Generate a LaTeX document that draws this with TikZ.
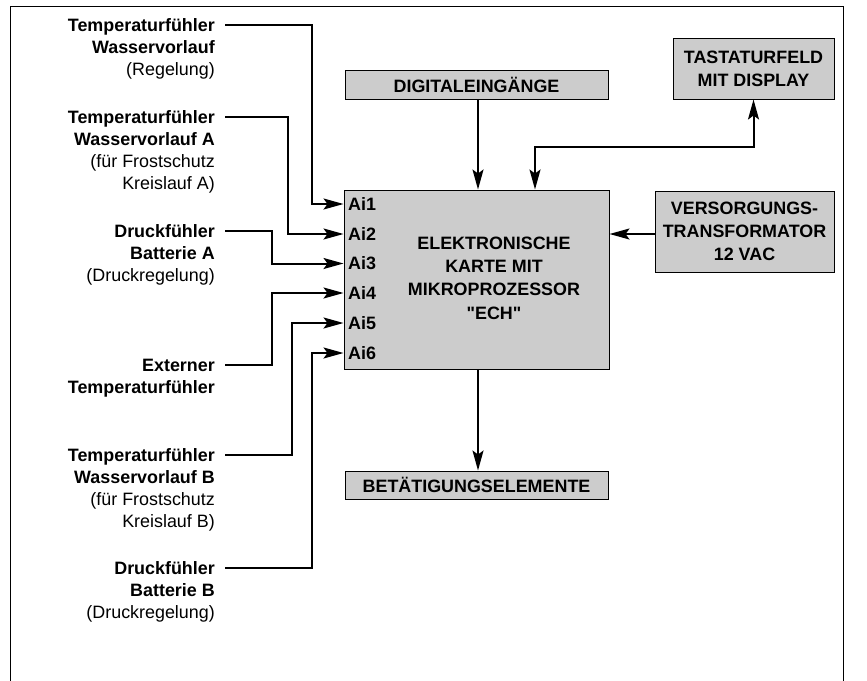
\documentclass[tikz,border=0pt]{standalone}
\usepackage{fontspec}
\setmainfont{Liberation Sans}[Ligatures=TeXOff]
\usetikzlibrary{arrows.meta}
\begin{document}
\begin{tikzpicture}[x=1pt,y=-1pt,
  every node/.style={font=\fontsize{17.9}{22}\selectfont},
  box/.style={draw, line width=1pt, fill=black!20, inner sep=0pt,
    font=\fontsize{17.9}{23}\selectfont\bfseries, align=center},
  sensor/.style={anchor=base east, align=right, inner sep=0pt},
  ailabel/.style={anchor=west, inner sep=0pt, font=\fontsize{17.9}{22}\selectfont\bfseries},
  conn/.style={line width=2pt, -{Stealth[length=20pt,width=11pt,inset=4pt]}},
  biconn/.style={line width=2pt, {Stealth[length=20pt,width=11pt,inset=4pt]}-{Stealth[length=20pt,width=11pt,inset=4pt]}},
  ]
\useasboundingbox (0,0) rectangle (867,680);
\clip (0,0) rectangle (867,680);
\draw[line width=1pt] (10,6) rectangle (843,690);

% boxes
\node[box, minimum width=265pt, minimum height=179pt] (ech) at (476.5,279.5) {};
\node[inner sep=0pt, align=center, font=\fontsize{17.9}{23.3}\selectfont\bfseries] (echtext) at (494,278)
  {ELEKTRONISCHE\\KARTE MIT\\MIKROPROZESSOR\\"ECH"};
\node[box, minimum width=263pt, minimum height=29pt] (dig) at (476.5,84.5) {DIGITALEINGÄNGE};
\node[box, minimum width=161pt, minimum height=61pt] (tast) at (753.5,68.5) {TASTATURFELD\\MIT DISPLAY};
\node[box, minimum width=179pt, minimum height=81pt] (vers) at (744.5,231.5) {VERSORGUNGS-\\TRANSFORMATOR\\12 VAC};
\node[box, minimum width=263pt, minimum height=28pt] (bet) at (476.5,485) {BETÄTIGUNGSELEMENTE};

% Ai labels
\node[ailabel] (a1) at (348,204) {Ai1};
\node[ailabel] (a2) at (348,234) {Ai2};
\node[ailabel] (a3) at (348,263.5) {Ai3};
\node[ailabel] (a4) at (348,293) {Ai4};
\node[ailabel] (a5) at (348,323) {Ai5};
\node[ailabel] (a6) at (348,353) {Ai6};

% sensors (anchored at the baseline of their last line)
\node[sensor] (t1) at (215,75) {\textbf{Temperaturfühler}\\\textbf{Wasservorlauf}\\(Regelung)};
\node[sensor] (t2) at (215,189) {\textbf{Temperaturfühler}\\\textbf{Wasservorlauf A}\\(für Frostschutz\\Kreislauf A)};
\node[sensor] (t3) at (215,281.5) {\textbf{Druckfühler}\\\textbf{Batterie A}\\(Druckregelung)};
\node[sensor] (t4) at (215,393) {\textbf{Externer}\\\textbf{Temperaturfühler}};
\node[sensor] (t5) at (215,527.5) {\textbf{Temperaturfühler}\\\textbf{Wasservorlauf B}\\(für Frostschutz\\Kreislauf B)};
\node[sensor] (t6) at (215,618.5) {\textbf{Druckfühler}\\\textbf{Batterie B}\\(Druckregelung)};

\coordinate (s1) at ([shift={(10pt,50.5pt)}]t1.base east);
\coordinate (s2) at ([shift={(10pt,72.5pt)}]t2.base east);
\coordinate (s3) at ([shift={(10pt,50.5pt)}]t3.base east);
\coordinate (s4) at ([shift={(10pt,28.5pt)}]t4.base east);
\coordinate (s5) at ([shift={(10pt,72.5pt)}]t5.base east);
\coordinate (s6) at ([shift={(10pt,50.5pt)}]t6.base east);

% sensor connectors
\draw[conn] (s1) -| ([xshift=-32pt]ech.west |- a1.west) -- (ech.west |- a1.west);
\draw[conn] (s2) -| ([xshift=-56pt]ech.west |- a2.west) -- (ech.west |- a2.west);
\draw[conn] (s3) -| ([xshift=-72pt]ech.west |- a3.west) -- (ech.west |- a3.west);
\draw[conn] (s4) -| ([xshift=-72pt]ech.west |- a4.west) -- (ech.west |- a4.west);
\draw[conn] (s5) -| ([xshift=-52pt]ech.west |- a5.west) -- (ech.west |- a5.west);
\draw[conn] (s6) -| ([xshift=-32pt]ech.west |- a6.west) -- (ech.west |- a6.west);

% other connectors
\draw[conn] ([xshift=1.5pt]dig.south) -- ([xshift=1.5pt]ech.north);
\draw[biconn] ([xshift=58.5pt]ech.north) -- ++(0,-43) -| (tast.south);
\draw[conn] ([yshift=-2.5pt]vers.west) coordinate (v) -- (ech.east |- v);
\draw[conn] ([xshift=1.5pt]ech.south) -- ([xshift=1.5pt]bet.north);
\end{tikzpicture}
\end{document}
